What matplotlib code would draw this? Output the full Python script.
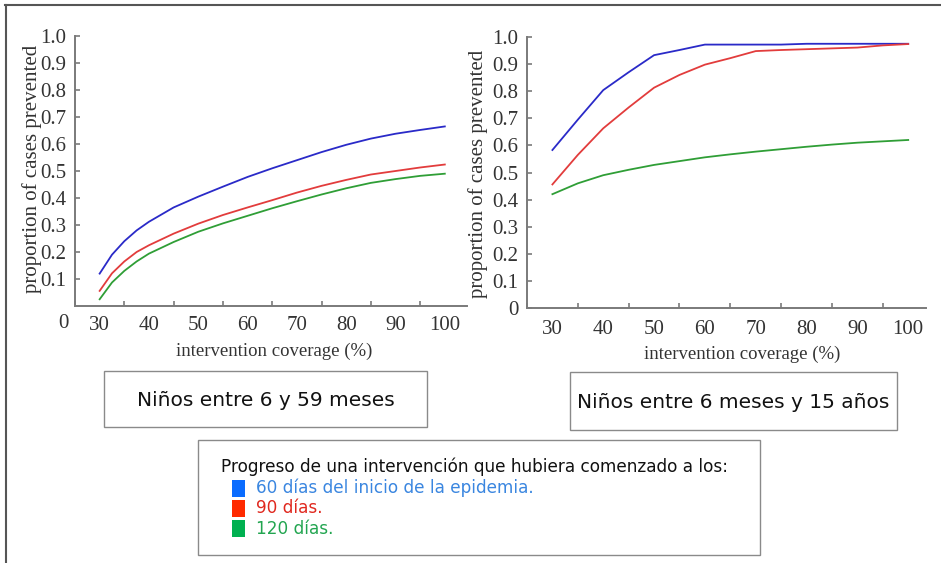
import matplotlib
matplotlib.use('Agg')
import matplotlib.pyplot as plt
import matplotlib.patches as mpatches
import matplotlib.lines as mlines

W, H = 941, 563

# coverage (%) for the left panel (denser at the start, where the curve bends)
left_cov = [30, 32.5, 35, 37.5, 40, 45, 50, 55, 60, 65, 70, 75, 80, 85, 90, 95, 100]
# left panel: children 6-59 months
left_60 = [0.12, 0.19, 0.24, 0.28, 0.312, 0.365, 0.405, 0.442, 0.478, 0.51, 0.54, 0.57, 0.597, 0.62, 0.638, 0.652, 0.665]
left_90 = [0.056, 0.121, 0.165, 0.2, 0.225, 0.268, 0.305, 0.337, 0.365, 0.392, 0.42, 0.445, 0.467, 0.487, 0.50, 0.513, 0.524]
left_120 = [0.025, 0.087, 0.13, 0.165, 0.194, 0.237, 0.275, 0.306, 0.334, 0.362, 0.388, 0.413, 0.436, 0.456, 0.47, 0.482, 0.49]

# coverage (%) for the right panel
right_cov = [30, 35, 40, 45, 50, 55, 60, 65, 70, 75, 80, 85, 90, 95, 100]
# right panel: children 6 months - 15 years
right_60 = [0.583, 0.695, 0.804, 0.87, 0.933, 0.952, 0.972, 0.972, 0.972, 0.972, 0.975, 0.975, 0.975, 0.975, 0.975]
right_90 = [0.456, 0.565, 0.663, 0.74, 0.813, 0.86, 0.898, 0.922, 0.948, 0.952, 0.955, 0.958, 0.961, 0.969, 0.974]
right_120 = [0.42, 0.46, 0.49, 0.51, 0.528, 0.542, 0.556, 0.567, 0.577, 0.586, 0.595, 0.603, 0.61, 0.615, 0.62]

x_labels = [30, 40, 50, 60, 70, 80, 90, 100]
x_minor = [25, 35, 45, 55, 65, 75, 85, 95]

panel_titles = ['Niños entre 6 y 59 meses', 'Niños entre 6 meses y 15 años']
legend_header = 'Progreso de una intervención que hubiera comenzado a los:'
legend_items = ['60 días del inicio de la epidemia.', '90 días.', '120 días.']

LINE_COLS = ['#2a2ac8', '#e23c3c', '#2f9e36']
SQ_COLS = ['#0a6cff', '#ff2a00', '#00b050']
TXT_COLS = ['#3a86e0', '#e0281e', '#22a550']

SERIF = 'Liberation Serif'
AX_GREY = '#7a7a7a'
TXT_GREY = '#333333'


def px_rect(x0, x1, y_top, y_bot):
    return [x0 / W, (H - y_bot) / H, (x1 - x0) / W, (y_bot - y_top) / H]


def style_axes(ax, yticks, xlim, xlab_pos, ylab_pos, xpad):
    for s in ['top', 'right']:
        ax.spines[s].set_visible(False)
    for s in ['left', 'bottom']:
        ax.spines[s].set_color(AX_GREY)
        ax.spines[s].set_linewidth(1.4)
    ax.set_xlim(*xlim)
    ax.set_ylim(0, 1.0)
    ax.set_xticks(x_labels)
    ax.set_xticklabels([str(v) for v in x_labels])
    ax.set_xticks(x_minor, minor=True)
    ax.tick_params(axis='x', which='major', length=0, pad=xpad, labelsize=15, labelcolor=TXT_GREY)
    ax.tick_params(axis='x', which='minor', length=3.5, direction='in', color=AX_GREY, width=1.2)
    ax.set_yticks(yticks)
    ax.set_yticklabels(['0' if v == 0 else f'{v:.1f}' for v in yticks])
    ax.tick_params(axis='y', length=3.5, direction='in', color=AX_GREY, width=1.2,
                   pad=6, labelsize=15, labelcolor=TXT_GREY)
    for lab in ax.get_xticklabels() + ax.get_yticklabels():
        lab.set_family(SERIF)
    ax.set_xlabel('intervention coverage (%)', family=SERIF, fontsize=13.5, color=TXT_GREY)
    ax.set_ylabel('proportion of cases prevented', family=SERIF, fontsize=15, color=TXT_GREY)
    ax.xaxis.set_label_coords(*xlab_pos)
    ax.yaxis.set_label_coords(*ylab_pos)
    ax.xaxis.label.set_verticalalignment('center')
    ax.yaxis.label.set_verticalalignment('center')
    ax.yaxis.label.set_horizontalalignment('center')


fig = plt.figure(figsize=(W / 100, H / 100), dpi=100)
fig.patch.set_facecolor('white')

# outer frame (top and left edges only)
fig.add_artist(mlines.Line2D([5 / W, 1], [1 - 5 / H, 1 - 5 / H], color='#555555', lw=1.5))
fig.add_artist(mlines.Line2D([6 / W, 6 / W], [0, 1 - 5 / H], color='#555555', lw=1.5))

ax1 = fig.add_axes(px_rect(75, 467, 36, 306))
for ys, c in zip([left_60, left_90, left_120], LINE_COLS):
    ax1.plot(left_cov, ys, color=c, lw=1.3)
style_axes(ax1, [0.1, 0.2, 0.3, 0.4, 0.5, 0.6, 0.7, 0.8, 0.9, 1.0], (25, 104.5),
           (0.508, -0.169), (-0.11, 0.507), 7)
fig.text(63 / W, 1 - 323 / H, '0', family=SERIF, fontsize=15, color=TXT_GREY, ha='center', va='center')

ax2 = fig.add_axes(px_rect(527, 926, 37, 308))
for ys, c in zip([right_60, right_90, right_120], LINE_COLS):
    ax2.plot(right_cov, ys, color=c, lw=1.3)
style_axes(ax2, [0, 0.1, 0.2, 0.3, 0.4, 0.5, 0.6, 0.7, 0.8, 0.9, 1.0], (25, 103.5),
           (0.54, -0.171), (-0.123, 0.494), 9)

# title boxes under each panel
boxes = [(104, 427, 371, 427), (570, 897, 372, 430)]
for (x0, x1, yt, yb), title in zip(boxes, panel_titles):
    fig.add_artist(mpatches.Rectangle((x0 / W, 1 - yb / H), (x1 - x0) / W, (yb - yt) / H,
                                      transform=fig.transFigure, fill=False, edgecolor='#8a8a8a', lw=1.0))
    fig.text((x0 + x1) / 2 / W, 1 - ((yt + yb) / 2 + 1) / H, title, fontsize=14.5,
             family='DejaVu Sans', color='#111111', ha='center', va='center')

# legend box
fig.add_artist(mpatches.Rectangle((198 / W, 1 - 555 / H), (760 - 198) / W, (555 - 440) / H,
                                  transform=fig.transFigure, fill=False, edgecolor='#8a8a8a', lw=1.0))
fig.text(221 / W, 1 - 467 / H, legend_header, fontsize=12.2, family='DejaVu Sans',
         color='#111111', ha='left', va='center')
row_y = [488, 508, 528.5]
for yc, lab, sq, tc in zip(row_y, legend_items, SQ_COLS, TXT_COLS):
    fig.add_artist(mpatches.Rectangle((232 / W, 1 - (yc + 8.5) / H), 13 / W, 17 / H,
                                      transform=fig.transFigure, facecolor=sq, edgecolor='none'))
    fig.text(256 / W, 1 - yc / H, lab, fontsize=12.2, family='DejaVu Sans', color=tc,
             ha='left', va='center')

fig.savefig('out.png', dpi=100)
